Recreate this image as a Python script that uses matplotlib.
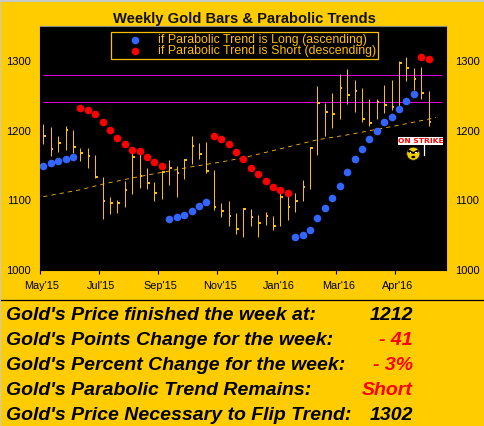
import numpy as np
import matplotlib
matplotlib.use("Agg")
import matplotlib.pyplot as plt
from matplotlib.patches import Circle, Rectangle, Ellipse, Polygon
from matplotlib.transforms import ScaledTranslation

plt.rcParams['font.family'] = ['Liberation Sans', 'DejaVu Sans']

GOLD = '#FFCC00'
BAR = '#FFBF00'

high = [1210, 1205, 1192, 1207, 1201, 1175, 1175, 1165, 1133, 1104, 1100, 1128, 1170, 1172, 1147, 1126, 1142, 1158,
        1149, 1160, 1192, 1182, 1184, 1143, 1096, 1099, 1082, 1088, 1087, 1079, 1083, 1077, 1115, 1110, 1110, 1129,
        1176, 1264, 1240, 1255, 1282, 1289, 1273, 1261, 1246, 1246, 1266, 1273, 1300, 1306, 1290, 1292, 1257]
low = [1181, 1164, 1169, 1172, 1168, 1157, 1147, 1132, 1073, 1080, 1082, 1090, 1109, 1118, 1116, 1099, 1102, 1122,
       1105, 1130, 1152, 1159, 1139, 1086, 1075, 1063, 1051, 1047, 1063, 1047, 1064, 1057, 1062, 1071, 1083, 1099,
       1116, 1165, 1192, 1204, 1217, 1238, 1227, 1212, 1207, 1217, 1225, 1230, 1227, 1272, 1259, 1246, 1207]
close = [1192, 1173, 1183, 1201, 1176, 1168, 1164, 1134, 1099, 1096, 1096, 1115, 1162, 1135, 1125, 1110, 1141, 1146,
         1139, 1158, 1178, 1166, 1142, 1090, 1085, 1077, 1058, 1087, 1075, 1067, 1077, 1062, 1105, 1090, 1099, 1119,
         1175, 1240, 1227, 1224, 1262, 1251, 1258, 1217, 1211, 1242, 1237, 1234, 1297, 1290, 1274, 1255, 1212]

long_weeks = [0, 1, 2, 3, 4, 17, 18, 19, 20, 21, 22, 34, 35, 36, 37, 38, 39, 40, 41, 42, 43, 44, 45, 46, 47, 48, 49, 50]
long_vals = [1149, 1153, 1156, 1159, 1162, 1073, 1075, 1079, 1085, 1091, 1098, 1047, 1050, 1057, 1074, 1089, 1103,
             1120, 1140, 1159, 1174, 1188, 1200, 1212, 1220, 1231, 1243, 1253]
short_weeks = [5, 6, 7, 8, 9, 10, 11, 12, 13, 14, 15, 16, 23, 24, 25, 26, 27, 28, 29, 30, 31, 32, 33, 51, 52]
short_vals = [1233, 1230, 1224, 1212, 1201, 1190, 1181, 1172, 1171, 1162, 1155, 1149, 1193, 1188, 1181, 1170, 1159,
              1146, 1137, 1127, 1119, 1115, 1110, 1306, 1303]

trend_weeks = [0, 5, 8, 12, 16, 20, 24, 27, 32, 37, 41, 45, 48, 53]
trend_vals = [1105, 1115, 1123, 1132, 1140, 1148, 1155, 1161, 1174, 1187, 1194, 1202, 1208, 1219]

levels = [1280, 1241]
month_ticks = [-0.5, 7.5, 15.5, 23.5, 31.5, 39.5, 47.5]
month_labels = ["May'15", "Jul'15", "Sep'15", "Nov'15", "Jan'16", "Mar'16", "Apr'16"]
y_ticks = [1000, 1100, 1200, 1300]

rows = ["Gold's Price finished the week at:", "Gold's Points Change for the week:",
        "Gold's Percent Change for the week:", "Gold's Parabolic Trend Remains:",
        "Gold's Price Necessary to Flip Trend:"]
row_vals = ["1212", "- 41", "- 3%", "Short", "1302"]
row_cols = ['black', 'red', 'red', 'red', 'black']

W, H = 484, 426
fig = plt.figure(figsize=(W / 100, H / 100), dpi=100, facecolor=GOLD)
ax = fig.add_axes([39.6 / W, 1 - 269.5 / H, (446.4 - 39.6) / W, (269.5 - 26) / H], facecolor='black')

weeks = np.arange(len(high))
ax.hlines(levels, 0, 53.8, color='#E000E0', lw=0.72, snap=True)
ax.plot(trend_weeks, trend_vals, color=BAR, lw=0.6, dashes=(5, 5))
ax.vlines(weeks, low, high, color=BAR, lw=0.72, snap=True)
ax.hlines(close, weeks, weeks + 0.36, color=BAR, lw=1.44, snap=True)
ax.scatter(long_weeks, long_vals, s=30, color='#3366FF', lw=0, zorder=3, label='if Parabolic Trend is Long (ascending)')
ax.scatter(short_weeks, short_vals, s=30, color='#FF0000', lw=0, zorder=3, label='if Parabolic Trend is Short (descending)')

ax.set_xlim(-0.5, 54.4)
ax.set_ylim(1000, 1351)
ax.set_xticks(month_ticks)
ax.set_xticklabels(month_labels, fontsize=7.8)
ax.set_yticks(y_ticks)
ax.tick_params(axis='x', length=3, width=0.8, color='black', pad=5)
ax.tick_params(axis='y', length=0, labelsize=8, pad=6.5, labelleft=True, labelright=True)
for lab in ax.get_xticklabels():
    lab.set_transform(lab.get_transform() + ScaledTranslation(2.5 / 100, 0, fig.dpi_scale_trans))
for name in ['left', 'bottom', 'right']:
    ax.spines[name].set_color('black')
ax.spines['top'].set_color('#8A8A8A')

leg = ax.legend(loc='upper left', bbox_to_anchor=(111 / W, 1 - 32 / H), bbox_transform=fig.transFigure,
                fontsize=8.93, frameon=True, facecolor='black', edgecolor=BAR, labelcolor=BAR, fancybox=False,
                framealpha=1, borderpad=0.2, labelspacing=-0.12, handletextpad=0.05, borderaxespad=0, handlelength=3.5,
                scatterpoints=1)
leg.get_frame().set_linewidth(0.9)

# everything outside the scales is placed in pixels
ov = fig.add_axes([0, 0, 1, 1])
ov.set_xlim(0, W)
ov.set_ylim(H, 0)
ov.axis('off')
ov.patch.set_visible(False)

ov.text(244, 23, "Weekly Gold Bars & Parabolic Trends", ha='center', va='baseline', fontsize=10.6, fontweight='bold',
        color='#111111')
ov.plot([1, W], [300, 300], color='black', lw=0.9)
ov.add_patch(Rectangle((0, 0), W, 1.5, color='#C8C8C8', lw=0))
ov.add_patch(Rectangle((0, 0), 1.2, H, color='#C8C8C8', lw=0))

row_y = [320, 345, 370, 395, 420]
for y, label, val, col in zip(row_y, rows, row_vals, row_cols):
    ov.text(6, y, label, fontsize=14, fontweight='bold', style='italic', color='black', va='baseline')
    ov.text(413, y, val, fontsize=14, fontweight='bold', style='italic', color=col, va='baseline', ha='right')

# on strike badge
ov.add_patch(Rectangle((398, 137), 45, 7.5, color='white', lw=0))
ov.text(420.5, 140.9, "ON STRIKE", color='red', fontsize=5.4, fontweight='bold', family='DejaVu Sans',
        ha='center', va='center')
ov.plot([423.5, 423.5], [144.5, 155], color='white', lw=0.9)
ov.add_patch(Circle((413.3, 153.7), 6.6, facecolor='#F5D000', edgecolor='#1A1A00', lw=0.6))
ov.add_patch(Polygon([(408, 149), (413.3, 152), (418.6, 149), (418.6, 152), (413.3, 154), (408, 152)], color='black', lw=0))
ov.add_patch(Rectangle((409.8, 151.5), 1.5, 1.5, color='white', lw=0))
ov.add_patch(Rectangle((415.3, 151.5), 1.5, 1.5, color='white', lw=0))
ov.add_patch(Ellipse((413.3, 157), 4, 2.5, color='black', lw=0))

fig.savefig('out.png', dpi=100, facecolor=GOLD)
